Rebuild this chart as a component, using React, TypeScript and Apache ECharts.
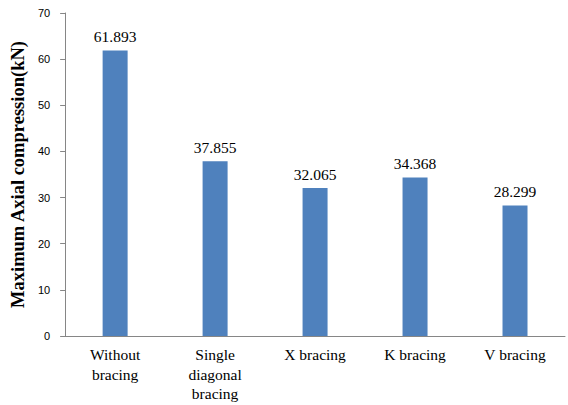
import React, { useEffect, useRef } from "react";
import * as echarts from "echarts";

const categories = ["Without\nbracing", "Single\ndiagonal\nbracing", "X bracing", "K bracing", "V bracing"];
const values = [61.893, 37.855, 32.065, 34.368, 28.299];
const yTicks = [0, 10, 20, 30, 40, 50, 60, 70];

const SERIF = "'Liberation Serif', 'Times New Roman', serif";
const SANS = "'Liberation Sans', Arial, sans-serif";

export default function App() {
  const ref = useRef<HTMLDivElement>(null);
  useEffect(() => {
    if (!ref.current) return;
    const chart = echarts.init(ref.current, undefined, { renderer: "svg" });
    chart.setOption({
      animation: false,
      grid: { left: 61, right: 3, top: 13, bottom: 69, containLabel: false },
      xAxis: {
        type: "category",
        data: categories,
        axisLine: { lineStyle: { color: "#868686", width: 1 } },
        axisTick: { show: false },
        axisLabel: {
          color: "#000",
          fontFamily: SERIF,
          fontSize: 15.5,
          lineHeight: 19.5,
          margin: 9,
          interval: 0,
        },
      },
      yAxis: {
        type: "value",
        min: yTicks[0],
        max: yTicks[yTicks.length - 1],
        interval: 10,
        name: "Maximum Axial compression(kN)",
        nameLocation: "middle",
        nameGap: 29,
        nameTextStyle: {
          fontFamily: SERIF,
          fontWeight: "bold",
          fontSize: 18.5,
          color: "#000",
        },
        splitLine: { show: false },
        axisLine: { show: true, lineStyle: { color: "#868686", width: 1 } },
        axisTick: { show: true, length: 5, lineStyle: { color: "#868686" } },
        axisLabel: {
          color: "#000",
          fontFamily: SANS,
          fontSize: 11,
          margin: 15,
        },
      },
      series: [
        {
          type: "bar",
          data: values,
          barWidth: 25,
          itemStyle: { color: "#4F81BD" },
          label: {
            show: true,
            position: "top",
            distance: 6,
            color: "#000",
            fontFamily: SERIF,
            fontSize: 15.5,
            formatter: (p: any) => values[p.dataIndex].toFixed(3),
          },
        },
      ],
    });
    return () => chart.dispose();
  }, []);
  return (
    <div
      ref={ref}
      style={{ position: "absolute", left: 0, top: 0, width: 568, height: 405 }}
    />
  );
}
